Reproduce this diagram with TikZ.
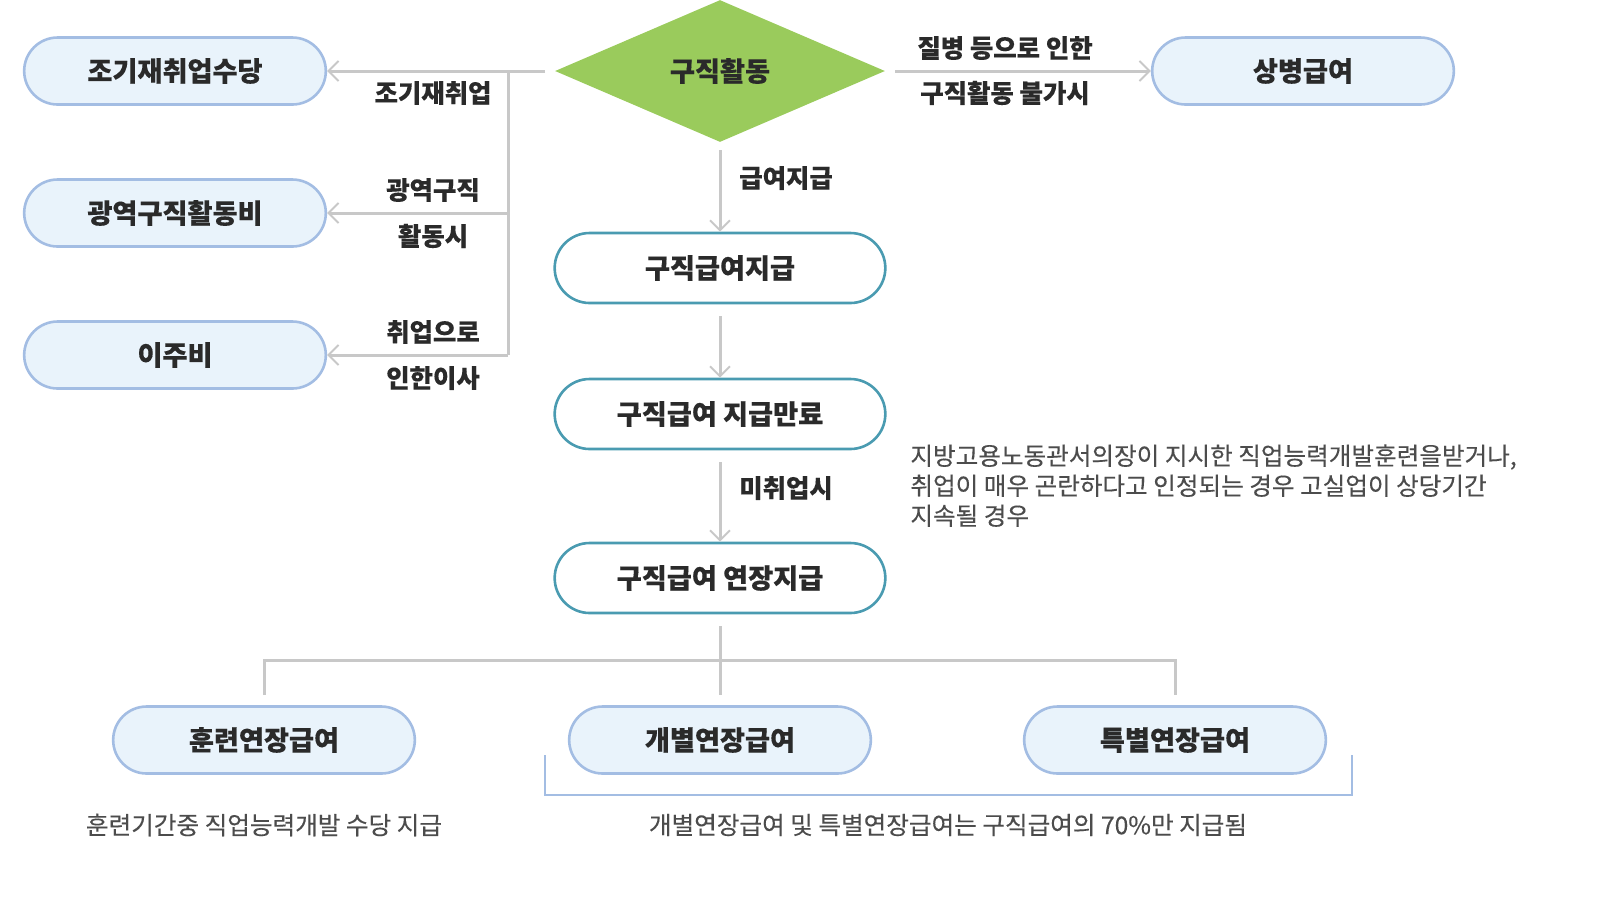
\documentclass[tikz,border=0pt]{standalone}
\usepackage{fontspec}
\setmainfont{Noto Sans CJK KR}[FakeBold=0.25]
\usetikzlibrary{arrows.meta,shapes.geometric,shapes.misc}
\definecolor{lbfill}{HTML}{E9F3FB}
\definecolor{lbdraw}{HTML}{A3BDE3}
\definecolor{teal}{HTML}{4A9BB1}
\definecolor{grn}{HTML}{9ACB5C}
\definecolor{ln}{HTML}{C8C8C8}
\definecolor{txt}{HTML}{2A2A2A}
\tikzset{
 pill/.style={rounded rectangle, minimum width=157.5pt, minimum height=33.5pt, draw=lbdraw, line width=1.3pt, fill=lbfill, font=\fontsize{13.6pt}{15pt}\selectfont\bfseries, text=txt},
 tpill/.style={rounded rectangle, minimum width=172pt, minimum height=35pt, draw=teal, line width=1.3pt, fill=white, font=\fontsize{13.6pt}{15pt}\selectfont\bfseries, text=txt},
 conn/.style={draw=ln, line width=1.5pt},
 arr/.style={conn, -{Straight Barb[length=5pt,width=10pt,line width=1pt]}},
 lbl/.style={font=\fontsize{12.7pt}{14pt}\selectfont\bfseries, text=txt, inner sep=0pt},
 note/.style={font=\fontsize{12.3pt}{15pt}\selectfont, text=black!70, inner sep=0pt},
}
\begin{document}
\begin{tikzpicture}[x=0.5pt,y=-0.5pt]
\useasboundingbox (0,0) rectangle (1612,896);
\node[pill] (a) at (175,71) {조기재취업수당};
\node[pill] (b) at (175,213) {광역구직활동비};
\node[pill] (c) at (175,355) {이주비};
\node[diamond, fill=grn, minimum width=165pt, minimum height=71pt, aspect=2.3, inner sep=0pt, font=\fontsize{13.6pt}{15pt}\selectfont\bfseries, text=txt] (d) at (720,71) {구직활동};
\node[pill] (e) at (1303,71) {상병급여};
\node[tpill] (f) at (720,268) {구직급여지급};
\node[tpill] (g) at (720,414) {구직급여 지급만료};
\node[tpill] (h) at (720,578) {구직급여 연장지급};
\node[pill] (i) at (264,740) {훈련연장급여};
\node[pill] (j) at (720,740) {개별연장급여};
\node[pill] (k) at (1175,740) {특별연장급여};
\coordinate (j1) at (508,71);
\coordinate (j2) at (508,213);
\coordinate (j3) at (508,355);
\draw[arr] (545,71) -- (a.east);
\draw[conn] (j1) -- (j3);
\draw[arr] (j2) -- (b.east);
\draw[arr] (j3) -- (c.east);
\draw[arr] (895,71) -- (e.west);
\draw[arr] (720,150) -- (f.north);
\draw[arr] (720,316) -- (g.north);
\draw[arr] (720,462) -- (h.north);
\coordinate (t) at (720,660);
\draw[conn] (720,626) -- (t);
\draw[conn] (264,695) -- (264,660) -- (1175,660) -- (1175,695);
\draw[conn] (t) -- (720,695);
\draw[draw=lbdraw, line width=0.6pt] (545,755) -- (545,795) -- (1352,795) -- (1352,755);
\node[lbl] at (433,93) {조기재취업};
\node[lbl] at (433,190) {광역구직};
\node[lbl] at (433,236) {활동시};
\node[lbl] at (433,332) {취업으로};
\node[lbl] at (433,378) {인한이사};
\node[lbl] at (1005,48) {질병 등으로 인한};
\node[lbl] at (1005,93) {구직활동 불가시};
\node[lbl] at (786,178) {급여지급};
\node[lbl] at (786,488) {미취업시};
\node[note, anchor=north west, align=left] at (910,444) {지방고용노동관서의장이 지시한 직업능력개발훈련을받거나,\\취업이 매우 곤란하다고 인정되는 경우 고실업이 상당기간\\지속될 경우};
\node[note] at (264,825) {훈련기간중 직업능력개발 수당 지급};
\node[note] at (948,825) {개별연장급여 및 특별연장급여는 구직급여의 70\%만 지급됨};
\end{tikzpicture}
\end{document}
